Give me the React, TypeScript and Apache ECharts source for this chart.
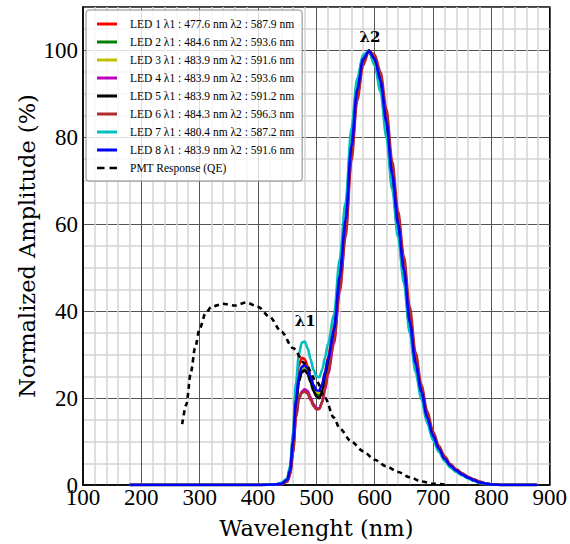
import React, { useEffect, useRef } from "react";
import * as echarts from "echarts";

const wavelengths = [180, 300, 400, 430, 440, 450, 455, 460, 465, 470, 475, 480, 485, 490, 495, 500, 505, 510, 515, 520, 530, 540, 550, 560, 570, 580, 590, 600, 610, 620, 630, 640, 650, 660, 670, 680, 690, 700, 710, 720, 730, 740, 750, 760, 770, 780, 790, 800, 820, 850, 878];

const led1 = [0, 0, 0, 0.1, 0.4, 1.4, 4, 11, 22, 27.5, 29.3, 29, 27.3, 24.8, 22.6, 21.4, 21.5, 23, 26, 29.5, 36.5, 50, 63, 80, 92.5, 98.5, 99.8, 97, 91.5, 81.5, 69.5, 58, 48, 36, 27, 20.5, 14.8, 10.8, 7.9, 5.7, 4.2, 3.1, 2.3, 1.6, 1, 0.5, 0.25, 0.1, 0, 0, 0];
const led2 = [0, 0, 0, 0.1, 0.3, 0.9, 2.8, 8.5, 18, 23.8, 26, 26.6, 26.2, 24.5, 22.5, 21, 20.6, 21.8, 24.5, 27.8, 34.5, 47, 60, 77, 90.5, 97.5, 100, 98.5, 93.5, 84.5, 72.5, 61, 50.5, 38.5, 28.8, 22, 16, 11.6, 8.5, 6.2, 4.5, 3.4, 2.5, 1.8, 1.2, 0.7, 0.35, 0.15, 0, 0, 0];
const led3 = [0, 0, 0, 0.1, 0.3, 1, 3.2, 9.5, 19, 24.5, 26.8, 27.2, 26.5, 24.7, 22.7, 21.4, 21.2, 22.7, 25.5, 28.7, 35.3, 48, 61, 78, 91, 98, 100, 98, 93, 83.5, 71.5, 60, 49.5, 37.5, 28, 21.5, 15.5, 11.3, 8.3, 6, 4.4, 3.3, 2.4, 1.7, 1.1, 0.6, 0.3, 0.1, 0, 0, 0];
const led4 = [0, 0, 0, 0.1, 0.2, 0.8, 2.4, 7.5, 15.5, 19.8, 21.5, 22, 21.6, 20.2, 18.6, 17.7, 17.6, 19, 22, 25.5, 32.5, 45, 58, 76, 89.5, 97, 100, 98.5, 93.5, 84.5, 72.5, 61, 50.5, 38.5, 28.8, 22, 16, 11.6, 8.5, 6.2, 4.5, 3.4, 2.5, 1.8, 1.2, 0.7, 0.35, 0.15, 0, 0, 0];
const led5 = [0, 0, 0, 0.1, 0.3, 1, 3, 9.5, 18.8, 24, 26, 26.4, 25.6, 23.7, 21.7, 20.4, 20, 21.3, 24.3, 27.8, 35, 48, 61, 78, 91, 98, 100, 98, 93, 83.5, 71.5, 60, 49.5, 37.5, 28, 21.5, 15.5, 11.3, 8.3, 6, 4.4, 3.3, 2.4, 1.7, 1.1, 0.6, 0.3, 0.1, 0, 0, 0];
const led6 = [0, 0, 0, 0.1, 0.2, 0.8, 2.3, 7.5, 15.5, 19.8, 21.2, 21.5, 21, 19.6, 18.2, 17.4, 17.5, 19.2, 22.5, 26, 33, 44.5, 57, 74.5, 88.5, 96.5, 99.8, 99, 95, 86.5, 74.5, 63, 52.5, 41, 30.5, 23, 17, 12.3, 9, 6.6, 4.8, 3.6, 2.7, 1.9, 1.3, 0.8, 0.4, 0.15, 0, 0, 0];
const led7 = [0, 0, 0, 0.1, 0.5, 1.5, 4.5, 12, 23.5, 30, 32.8, 33, 31.5, 29, 26.5, 25, 24.8, 26.5, 29.5, 32.5, 39, 52, 65, 82, 93.5, 99, 99.8, 96.5, 90.5, 80, 68, 57, 46.5, 35, 26, 19.8, 14.2, 10.3, 7.6, 5.5, 4, 3, 2.2, 1.5, 1, 0.5, 0.25, 0.1, 0, 0, 0];
const led8 = [0, 0, 0, 0.1, 0.3, 1.2, 3.5, 10, 19.5, 25, 27.2, 27.6, 26.8, 25, 23, 21.8, 21.7, 23.2, 26, 29, 35.5, 48, 61, 78, 91, 98, 99.8, 98, 93, 83.5, 71.5, 60, 49.5, 37.5, 28, 21.5, 15.5, 11.3, 8.3, 6, 4.4, 3.3, 2.4, 1.7, 1.1, 0.6, 0.3, 0.1, 0, 0, 0];

const ledNames = [
  "LED 1 λ1 : 477.6 nm λ2 : 587.9 nm",
  "LED 2 λ1 : 484.6 nm λ2 : 593.6 nm",
  "LED 3 λ1 : 483.9 nm λ2 : 591.6 nm",
  "LED 4 λ1 : 483.9 nm λ2 : 593.6 nm",
  "LED 5 λ1 : 483.9 nm λ2 : 591.2 nm",
  "LED 6 λ1 : 484.3 nm λ2 : 596.3 nm",
  "LED 7 λ1 : 480.4 nm λ2 : 587.2 nm",
  "LED 8 λ1 : 483.9 nm λ2 : 591.6 nm",
];
const ledColors = ["#ff0000", "#008000", "#bfbf00", "#bf00bf", "#000000", "#b22a2a", "#00bfbf", "#0000ff"];
const ledValues = [led1, led2, led3, led4, led5, led6, led7, led8];

const pmtName = "PMT Response (QE)";
const pmtWavelengths = [270, 277, 285, 292, 300, 310, 320, 340, 360, 380, 400, 420, 440, 460, 480, 500, 515, 530, 540, 560, 580, 600, 620, 640, 660, 680, 700, 720];
const pmtValues = [14, 18.5, 26, 31.5, 36, 39.5, 41, 41.7, 41.3, 42, 41, 38.7, 35.3, 31.5, 28, 24, 20, 15.5, 13, 10, 7.8, 5.8, 4.3, 3, 1.8, 0.8, 0.3, 0.1];

const peakLabels = [
  { name: "λ2", wl: 592, amp: 103 },
  { name: "λ1", wl: 481, amp: 37.8 },
];

const xTicks = [100, 200, 300, 400, 500, 600, 700, 800, 900];
const yTicks = [0, 20, 40, 60, 80, 100];

export default function App() {
  const ref = useRef<HTMLDivElement>(null);
  useEffect(() => {
    if (!ref.current) return;
    const chart = echarts.init(ref.current, null, { renderer: "svg" });
    const ledSeries = ledValues.map((vals, i) => ({
      name: ledNames[i],
      type: "line",
      data: wavelengths.map((w, j) => [w, vals[j]]),
      symbol: "none",
      smooth: 0.3,
      smoothMonotone: "x",
      lineStyle: { color: ledColors[i], width: 2.6 },
      itemStyle: { color: ledColors[i] },
      z: 3,
      markPoint:
        i === 7
          ? {
              symbol: "circle",
              symbolSize: 0,
              label: {
                show: true,
                position: "inside",
                formatter: "{b}",
                color: "#000",
                fontFamily: "DejaVu Serif",
                fontWeight: "bold",
                fontSize: 15,
              },
              data: peakLabels.map((p) => ({ name: p.name, coord: [p.wl, p.amp] })),
            }
          : undefined,
    }));
    const pmtSeries = {
      name: pmtName,
      type: "line",
      data: pmtWavelengths.map((w, j) => [w, pmtValues[j]]),
      symbol: "none",
      smooth: 0.3,
      smoothMonotone: "x",
      lineStyle: { color: "#000", width: 2.6, type: [5, 4] },
      itemStyle: { color: "#000" },
      z: 4,
    };
    chart.setOption({
      animation: false,
      grid: {
        left: 83,
        right: 17,
        top: 7,
        bottom: 52.5,
        show: true,
        borderColor: "#000",
        borderWidth: 1.5,
        backgroundColor: "#fff",
      },
      legend: {
        orient: "vertical",
        left: 86,
        top: 10,
        padding: [7, 8, 6, 11],
        itemGap: 4,
        itemWidth: 20,
        itemHeight: 3,
        backgroundColor: "rgba(255,255,255,0.8)",
        borderColor: "#888",
        borderWidth: 1,
        borderRadius: 3,
        data: [
          ...ledNames.map((n) => ({ name: n, icon: "rect" })),
          { name: pmtName, icon: "path://M0,0H6V2H0Z M10,0H16V2H10Z" },
        ],
        textStyle: {
          fontFamily: "Liberation Serif",
          fontSize: 11.5,
          color: "#000",
          lineHeight: 14,
          padding: [0, 0, 0, 8],
        },
      },
      xAxis: {
        type: "value",
        min: xTicks[0],
        max: xTicks[xTicks.length - 1],
        interval: 100,
        name: "Wavelenght (nm)",
        nameLocation: "middle",
        nameGap: 31,
        nameMoveOverlap: false,
        nameTextStyle: { fontFamily: "DejaVu Serif", fontSize: 22.5, color: "#000" },
        axisLine: { show: true, lineStyle: { color: "#000", width: 1.5 } },
        axisTick: { show: false },
        axisLabel: {
          margin: 1,
          fontFamily: "Liberation Serif",
          fontSize: 23,
          color: "#000",
          formatter: (v: number) => (xTicks.includes(v) ? String(v) : ""),
        },
        splitLine: { show: true, lineStyle: { color: "#555", width: 1 } },
        minorTick: { show: false, splitNumber: 5 },
        minorSplitLine: { show: true, lineStyle: { color: "#d4d4d4", width: 1.5 } },
      },
      yAxis: {
        type: "value",
        min: 0,
        max: 110,
        interval: 20,
        name: "Normalized Amplitude (%)",
        nameLocation: "middle",
        nameGap: 45,
        nameMoveOverlap: false,
        nameTextStyle: { fontFamily: "DejaVu Serif", fontSize: 22.5, color: "#000" },
        axisLine: { show: true, lineStyle: { color: "#000", width: 1.5 } },
        axisTick: { show: false },
        axisLabel: {
          margin: 5,
          fontFamily: "Liberation Serif",
          fontSize: 23,
          color: "#000",
          formatter: (v: number) => (yTicks.includes(v) ? String(v) : ""),
        },
        splitLine: { show: true, lineStyle: { color: "#555", width: 1 } },
        minorTick: { show: false, splitNumber: 4 },
        minorSplitLine: { show: true, lineStyle: { color: "#d4d4d4", width: 1.5 } },
      },
      series: [...ledSeries, pmtSeries],
    });
    return () => chart.dispose();
  }, []);
  return (
    <div
      ref={ref}
      style={{ position: "absolute", left: 0, top: 0, width: 570, height: 544, background: "#fff" }}
    />
  );
}
